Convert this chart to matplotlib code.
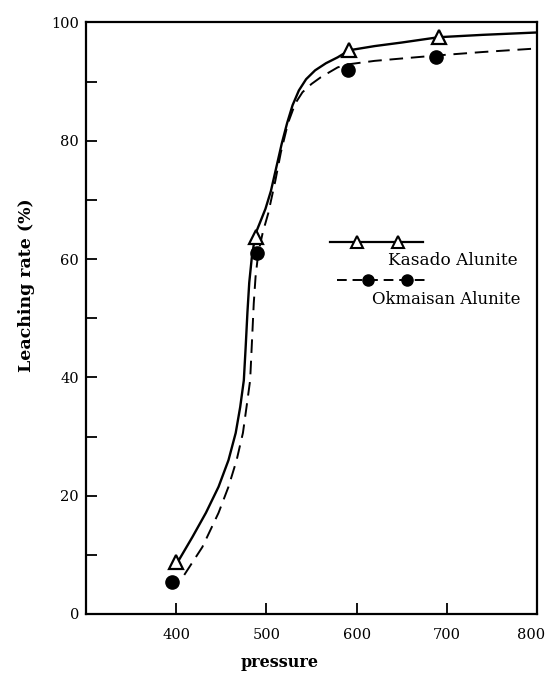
import matplotlib
matplotlib.use("Agg")
import matplotlib.pyplot as plt
from matplotlib.lines import Line2D
from matplotlib.transforms import offset_copy

# measured data points
kasado_x = [400, 489, 592, 691]
kasado_y = [8.8, 63.7, 95.3, 97.5]
okmaisan_x = [395, 490, 590, 688]
okmaisan_y = [5.4, 61.0, 92.0, 94.2]

# fitted curves
kasado_curve_x = [403, 418, 433, 447, 458, 466, 471, 475, 477, 479, 481, 484, 488, 493, 499, 505, 511, 517, 523, 529, 536, 544, 554, 566, 579, 592, 620, 650, 691, 740, 800]
kasado_curve_y = [9.1, 13.0, 17.1, 21.5, 26.0, 30.6, 35.0, 39.5, 45.0, 51.0, 56.0, 60.5, 64.3, 66.2, 68.5, 71.5, 75.5, 79.5, 83.0, 86.0, 88.5, 90.4, 91.9, 93.1, 94.1, 95.3, 96.0, 96.6, 97.5, 97.9, 98.3]
okmaisan_curve_x = [409, 429, 447, 458, 467, 474, 478, 482, 484, 486, 488, 491, 496, 502, 510, 516, 524, 532, 540, 550, 560, 570, 579, 590, 620, 650, 688, 740, 800]
okmaisan_curve_y = [6.6, 11.3, 17.1, 21.5, 26.0, 30.6, 35.0, 39.5, 46.0, 52.5, 57.0, 61.0, 64.5, 67.7, 73.3, 78.0, 83.0, 86.3, 88.2, 89.6, 90.7, 91.6, 92.4, 92.9, 93.5, 93.9, 94.4, 95.0, 95.6]

x_ticks = [400, 500, 600, 700, 800]
y_ticks = [0, 20, 40, 60, 80, 100]
y_minor = [10, 30, 50, 70, 90]

series_names = ["Kasado Alunite", "Okmaisan Alunite"]

fig = plt.figure(figsize=(5.47, 6.73), dpi=100)
ax = fig.add_axes([0.157, 0.0877, 0.825, 0.879])

ax.plot(kasado_curve_x, kasado_curve_y, color="black", lw=1.7, solid_capstyle="round",
        solid_joinstyle="round")
ax.plot(okmaisan_curve_x, okmaisan_curve_y, color="black", lw=1.4, dashes=(7, 4))
ax.plot(kasado_x, kasado_y, linestyle="none", marker="^", markersize=10,
        markerfacecolor="white", markeredgecolor="black", markeredgewidth=1.6)
ax.plot(okmaisan_x, okmaisan_y, linestyle="none", marker="o", markersize=9.5,
        markerfacecolor="black", markeredgecolor="black")

ax.set_xlim(300, 800)
ax.set_ylim(0, 100)
ax.set_xticks(x_ticks)
ax.set_yticks(y_ticks)
ax.set_yticks(y_minor, minor=True)
ax.tick_params(axis="both", which="both", direction="in", length=8, width=1.3,
               labelsize=10.5, pad=5)
ax.tick_params(axis="x", pad=10)
for lab in ax.get_xticklabels() + ax.get_yticklabels():
    lab.set_family("DejaVu Serif")
last = ax.get_xticklabels()[-1]
last.set_transform(offset_copy(last.get_transform(), fig=fig, x=-6, y=0, units="dots"))
for sp in ax.spines.values():
    sp.set_linewidth(1.6)

ax.set_xlabel("pressure", family="DejaVu Serif", fontsize=11.5, fontweight="bold")
ax.xaxis.set_label_coords(0.43, -0.068)
ax.set_ylabel("Leaching rate (%)", family="DejaVu Serif", fontsize=12.5, fontweight="bold")
ax.yaxis.set_label_coords(-0.112, 0.556)

# hand-drawn style legend
tr = ax.transAxes
ax.add_line(Line2D([0.541, 0.747], [0.628, 0.628], transform=tr, color="black", lw=1.6))
ax.add_line(Line2D([0.601, 0.692], [0.628, 0.628], transform=tr, linestyle="none",
                   marker="^", markersize=8.5, markerfacecolor="white",
                   markeredgecolor="black", markeredgewidth=1.5))
ax.text(0.670, 0.598, series_names[0], transform=tr, family="DejaVu Serif",
        fontsize=12.2, va="center", ha="left")
ax.add_line(Line2D([0.557, 0.754], [0.564, 0.564], transform=tr, color="black",
                   lw=1.4, dashes=(5, 3)))
ax.add_line(Line2D([0.625, 0.712], [0.564, 0.564], transform=tr, linestyle="none",
                   marker="o", markersize=8, markerfacecolor="black",
                   markeredgecolor="black"))
ax.text(0.634, 0.532, series_names[1], transform=tr, family="DejaVu Serif",
        fontsize=11.9, va="center", ha="left")

fig.savefig("out.png", dpi=100)
